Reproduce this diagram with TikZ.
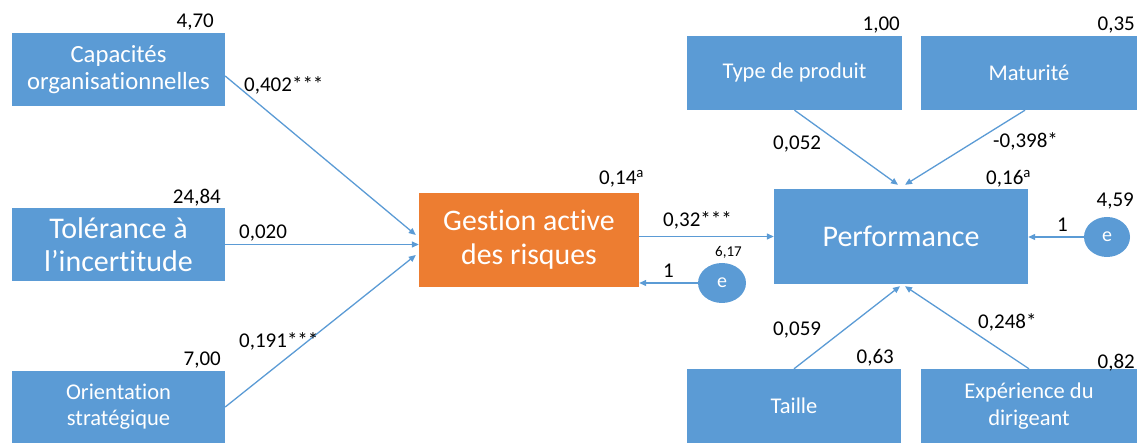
\documentclass[tikz,border=0pt]{standalone}
\usepackage{fontspec}
\setmainfont{Carlito}[Ligatures={NoCommon}]
\usetikzlibrary{arrows.meta,shapes.geometric}
\definecolor{boxblue}{HTML}{5B9BD5}
\definecolor{boxorange}{HTML}{ED7D31}
\definecolor{linkblue}{HTML}{5B9BD5}
\tikzset{
  varbox/.style={rectangle, fill=boxblue, draw=none, text=white, align=center, inner sep=0pt},
  errnode/.style={ellipse, fill=boxblue, draw=none, text=white, minimum width=48pt, minimum height=40pt, inner sep=0pt, font=\fontsize{20}{22}\selectfont},
  link/.style={draw=linkblue, line width=1.3pt, -{Triangle[length=7pt,width=6pt]}},
  num/.style={text=black, inner sep=0pt, font=\fontsize{21}{23}\selectfont},
  smallnum/.style={text=black, inner sep=0pt, font=\fontsize{15}{17}\selectfont},
}
\begin{document}
\begin{tikzpicture}[x=1pt,y=-1pt]
\useasboundingbox (0,0) rectangle (1142,443);
% boxes
\node[varbox, minimum width=213pt, minimum height=73pt, font=\fontsize{24.7}{27}\selectfont] (cap) at (118.5,70) {Capacités\\organisationnelles};
\node[varbox, minimum width=213pt, minimum height=73pt, font=\fontsize{30}{33}\selectfont] (tol) at (118.5,244.5) {Tolérance à\\l’incertitude};
\node[varbox, minimum width=213pt, minimum height=72pt, font=\fontsize{22.5}{26}\selectfont] (ori) at (118.5,407) {Orientation\\stratégique};
\node[varbox, fill=boxorange, minimum width=220pt, minimum height=94pt, font=\fontsize{29.8}{34}\selectfont] (ges) at (529,240) {Gestion active\\des risques};
\node[varbox, minimum width=254pt, minimum height=95pt, font=\fontsize{30}{33}\selectfont] (perf) at (901,236.5) {Performance};
\node[varbox, minimum width=215pt, minimum height=74pt, font=\fontsize{22.5}{26}\selectfont] (typ) at (794.5,73) {Type de produit};
\node[varbox, minimum width=216pt, minimum height=74pt, font=\fontsize{22.5}{26}\selectfont] (mat) at (1029,73) {Maturité};
\node[varbox, minimum width=214pt, minimum height=74pt, font=\fontsize{22.5}{26}\selectfont] (tai) at (794,406) {Taille};
\node[varbox, minimum width=216pt, minimum height=74pt, font=\fontsize{22.5}{27}\selectfont] (exp) at (1029,406) {Expérience du\\dirigeant};
\node[errnode] (e1) at (722,283) {e};
\node[errnode, minimum width=46pt, minimum height=40pt] (e2) at (1107,237) {e};
% connectors
\draw[link] ([yshift=-6pt]cap.east) -- ([xshift=-3pt,yshift=5pt]ges.west);
\draw[link] (tol.east) -- (tol.east -| ges.west);
\draw[link] (ori.east) -- ([xshift=-3pt,yshift=-15pt]ges.west);
\draw[link] (ges.east |- perf.west) -- (perf.west);
\draw[link] (e1.west) -- (e1.west -| ges.east);
\draw[link] (e2.west) -- (e2.west -| perf.east);
\draw[link] (typ.south) -- ([xshift=-3pt,yshift=4pt]perf.north);
\draw[link] ([xshift=-4pt]mat.south) -- ([xshift=4pt,yshift=4pt]perf.north);
\draw[link] (tai.north) -- ([xshift=-1pt,yshift=-2pt]perf.south);
\draw[link] (exp.north) -- ([xshift=4pt,yshift=-2pt]perf.south);
% labels
\node[num, anchor=base east] (l1) at (214,28) {4,70};
\node[num, anchor=base east] (l2) at (221,204) {24,84};
\node[num, anchor=base east] (l3) at (221,365) {7,00};
\node[num, anchor=base west] (l4) at (244,92) {0,402***};
\node[num, anchor=base west] (l5) at (239,239) {0,020};
\node[num, anchor=base west] (l6) at (239,347) {0,191***};
\node[num, anchor=base west] (l7) at (599,185) {0,14\textsuperscript{a}};
\node[num, anchor=base west] (l8) at (663,227) {0,32***};
\node[smallnum, anchor=base west] (l9) at (715,257) {6,17};
\node[num, anchor=base west] (l10) at (663,278) {1};
\node[num, anchor=base east] (l11) at (900,31) {1,00};
\node[num, anchor=base east] (l12) at (1135,31) {0,35};
\node[num, anchor=base west] (l13) at (773,150) {0,052};
\node[num, anchor=base west] (l14) at (993,148) {-0,398*};
\node[num, anchor=base west] (l15) at (986,185) {0,16\textsuperscript{a}};
\node[num, anchor=base east] (l16) at (1134,207) {4,59};
\node[num, anchor=base west] (l17) at (1057,232) {1};
\node[num, anchor=base west] (l18) at (773,335) {0,059};
\node[num, anchor=base west] (l19) at (978,328) {0,248*};
\node[num, anchor=base east] (l20) at (894,363) {0,63};
\node[num, anchor=base east] (l21) at (1135,368) {0,82};
\end{tikzpicture}
\end{document}
